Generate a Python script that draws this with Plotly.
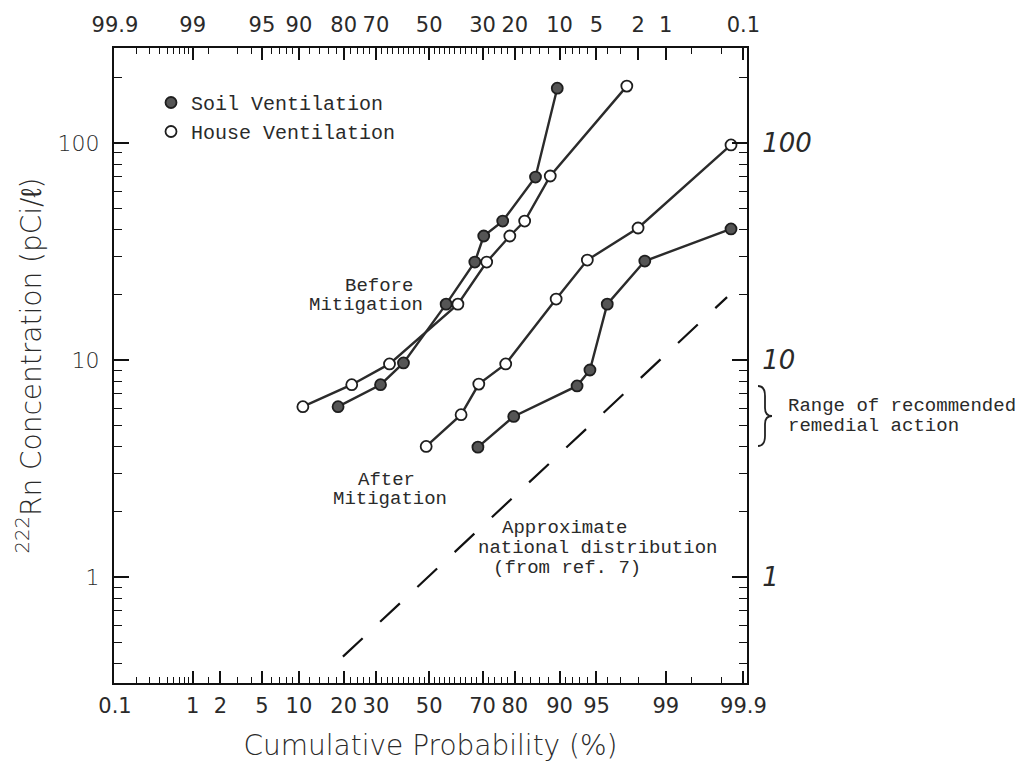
import plotly.graph_objects as go
from statistics import NormalDist

ND = NormalDist()


def z(p):
    return ND.inv_cdf(p / 100.0)


# ---------------- data ----------------
# bottom axis: cumulative probability; top axis: exceedance labels
prob_tick_labels = [0.1, 1, 2, 5, 10, 20, 30, 50, 70, 80, 90, 95, 99, 99.9]
top_tick_labels = [99.9, 99, 95, 90, 80, 70, 50, 30, 20, 10, 5, 2, 1, 0.1]
prob_minor = ([0.2, 0.3, 0.4, 0.5, 0.6, 0.7, 0.8, 0.9, 1.5, 3, 4, 6, 7, 8, 9]
              + list(range(12, 90, 2)) + [91, 92, 93, 94, 96, 97, 98, 99.5, 99.8])
conc_ticks = [1, 10, 100]
conc_minor = [0.4, 0.5, 0.6, 0.7, 0.8, 0.9, 2, 3, 4, 5, 6, 7, 8, 9,
              20, 30, 40, 50, 60, 70, 80, 90, 200]

soil_before_prob = [18.5, 31.6, 40.0, 56.6, 67.3, 70.4, 76.5, 85.2, 89.6]
soil_before_conc = [6.1, 7.7, 9.7, 18.1, 28.3, 37.3, 43.7, 69.7, 179]

house_before_prob = [10.7, 22.3, 34.8, 61.1, 71.4, 78.6, 82.6, 88.3, 97.4]
house_before_conc = [6.1, 7.7, 9.6, 18.1, 28.3, 37.3, 43.7, 70.5, 183]

house_after_prob = [48.8, 62.3, 68.7, 77.4, 89.4, 94.0, 98.0, 99.85]
house_after_conc = [4.0, 5.6, 7.75, 9.6, 19.1, 28.9, 40.6, 98]

soil_after_prob = [68.4, 79.7, 92.7, 94.3, 96.0, 98.3, 99.85]
soil_after_conc = [3.97, 5.5, 7.6, 9.0, 18.1, 28.6, 40.2]

national_prob = [19.8, 99.83]
national_conc = [0.43, 19.5]

# ---------------- layout geometry ----------------
W, H = 1023, 766
L, R, T, B = 106, 739, 40, 675
XMIN, XMAX = -3.10, 3.125
YMIN, YMAX = -0.488, 2.438


def px(x):
    return (x - L) / (R - L)


def py(y):
    return (B - y) / (B - T)


MONO = "Liberation Mono, Courier New, monospace"
SANS = "DejaVu Sans, sans-serif"
LINE = "#2b2b2b"
INK = "#2a2a2a"

fig = go.Figure()


def add_series(probs, conc, filled):
    fig.add_trace(go.Scatter(
        x=[z(p) for p in probs], y=conc, mode="lines+markers",
        line=dict(color=LINE, width=2.4),
        marker=dict(size=11, symbol="circle",
                    color="#555555" if filled else "white",
                    line=dict(color="#1e1e1e", width=1.8)),
        showlegend=False, hoverinfo="skip"))


add_series(soil_before_prob, soil_before_conc, True)
add_series(house_before_prob, house_before_conc, False)
add_series(house_after_prob, house_after_conc, False)
add_series(soil_after_prob, soil_after_conc, True)

fig.add_trace(go.Scatter(
    x=[z(p) for p in national_prob], y=national_conc, mode="lines",
    line=dict(color="#111111", width=2.2, dash="27px,24px"),
    showlegend=False, hoverinfo="skip"))

# legend entries (markers only)
fig.add_trace(go.Scatter(x=[None], y=[None], mode="markers", name="Soil Ventilation",
                         marker=dict(size=11, color="#555555",
                                     line=dict(color="#1e1e1e", width=1.8))))
fig.add_trace(go.Scatter(x=[None], y=[None], mode="markers", name="House Ventilation",
                         marker=dict(size=11, color="white",
                                     line=dict(color="#1e1e1e", width=1.8))))

# invisible trace for the secondary axes
fig.add_trace(go.Scatter(x=[None], y=[None], xaxis="x2", yaxis="y2", mode="markers",
                         showlegend=False, hoverinfo="skip"))

tickfont = dict(family=SANS, size=21, color=INK)
minor_x = dict(tickvals=[z(p) for p in prob_minor], ticks="inside", ticklen=6,
               tickwidth=1.2, tickcolor="#111111", showgrid=False)
minor_y = dict(tickvals=conc_minor, ticks="inside", ticklen=8,
               tickwidth=1.3, tickcolor="#111111", showgrid=False)

common_x = dict(range=[XMIN, XMAX], showgrid=False, zeroline=False, automargin=False,
                showline=True, linecolor="#111111", linewidth=2, tickangle=0,
                ticks="inside", ticklen=12, tickwidth=1.5, tickcolor="#111111",
                tickmode="array", tickfont=tickfont, minor=minor_x)

fig.update_layout(
    width=W, height=H,
    margin=dict(l=L, r=W - R, t=T, b=H - B, autoexpand=False),
    paper_bgcolor="white", plot_bgcolor="white",
    xaxis=dict(**common_x, ticklabelstandoff=3,
               tickvals=[z(p) for p in prob_tick_labels],
               ticktext=[f"{p:g}" for p in prob_tick_labels],
               title=dict(text="Cumulative Probability (%)",
                          font=dict(family=SANS, size=28, color=INK, weight=300),
                          standoff=18)),
    xaxis2=dict(**common_x, overlaying="x", side="top", anchor="y",
                ticklabelstandoff=6,
                tickvals=[z(100 - q) for q in top_tick_labels],
                ticktext=[f"{q:g}" for q in top_tick_labels]),
    yaxis=dict(type="log", range=[YMIN, YMAX], showgrid=False, zeroline=False,
               automargin=False, tickangle=0,
               showline=True, linecolor="#111111", linewidth=2,
               ticks="inside", ticklen=15, tickwidth=1.6, tickcolor="#111111",
               tickmode="array", tickvals=conc_ticks,
               ticktext=[str(v) for v in conc_ticks],
               tickfont=dict(family=SANS, size=22, color=INK, weight=300),
               ticklabelstandoff=8, minor=minor_y,
               title=dict(text="<sup>222</sup>Rn Concentration (pCi/ℓ)",
                          font=dict(family=SANS, size=28, color=INK, weight=300),
                          standoff=8)),
    yaxis2=dict(type="log", range=[YMIN, YMAX], overlaying="y", side="right",
                anchor="x", showgrid=False, zeroline=False, automargin=False,
                tickangle=0,
                showline=True, linecolor="#111111", linewidth=2,
                ticks="inside", ticklen=15, tickwidth=1.6, tickcolor="#111111",
                tickmode="array", tickvals=conc_ticks,
                ticktext=[str(v) for v in conc_ticks],
                tickfont=dict(family=SANS, size=26, color=INK, style="italic",
                              weight=300),
                ticklabelstandoff=8, minor=minor_y),
    legend=dict(x=px(143), y=py(75), xanchor="left", yanchor="top",
                bgcolor="rgba(0,0,0,0)", font=dict(family=MONO, size=20, color=INK),
                itemwidth=30, tracegroupgap=0),
    showlegend=True,
)

text_lines = [
    ("Before", 335, 278),
    ("Mitigation", 299, 297),
    ("After", 348, 472),
    ("Mitigation", 323, 491),
    ("Approximate", 492, 520),
    ("national distribution", 468, 540),
    ("(from ref. 7)", 483, 560),
    ("Range of recommended", 778, 398),
    ("remedial action", 778, 418),
]
for txt, x0, y0 in text_lines:
    fig.add_annotation(text=txt, x=px(x0), y=py(y0), xref="paper", yref="paper",
                       xanchor="left", yanchor="middle", showarrow=False,
                       font=dict(family=MONO, size=19, color=INK))

# curly brace for the remedial-action range
bx, btop, bbot, bmid = 750, 378, 438, 408
pts = [
    f"M {px(bx)},{py(btop)}",
    f"Q {px(bx + 7)},{py(btop)} {px(bx + 7)},{py(btop + 10)}",
    f"L {px(bx + 7)},{py(bmid - 8)}",
    f"Q {px(bx + 7)},{py(bmid)} {px(bx + 14)},{py(bmid)}",
    f"Q {px(bx + 7)},{py(bmid)} {px(bx + 7)},{py(bmid + 8)}",
    f"L {px(bx + 7)},{py(bbot - 10)}",
    f"Q {px(bx + 7)},{py(bbot)} {px(bx)},{py(bbot)}",
]
fig.add_shape(type="path", path=" ".join(pts), xref="paper", yref="paper",
              line=dict(color="#222222", width=1.8))

fig.write_html("out.html")
